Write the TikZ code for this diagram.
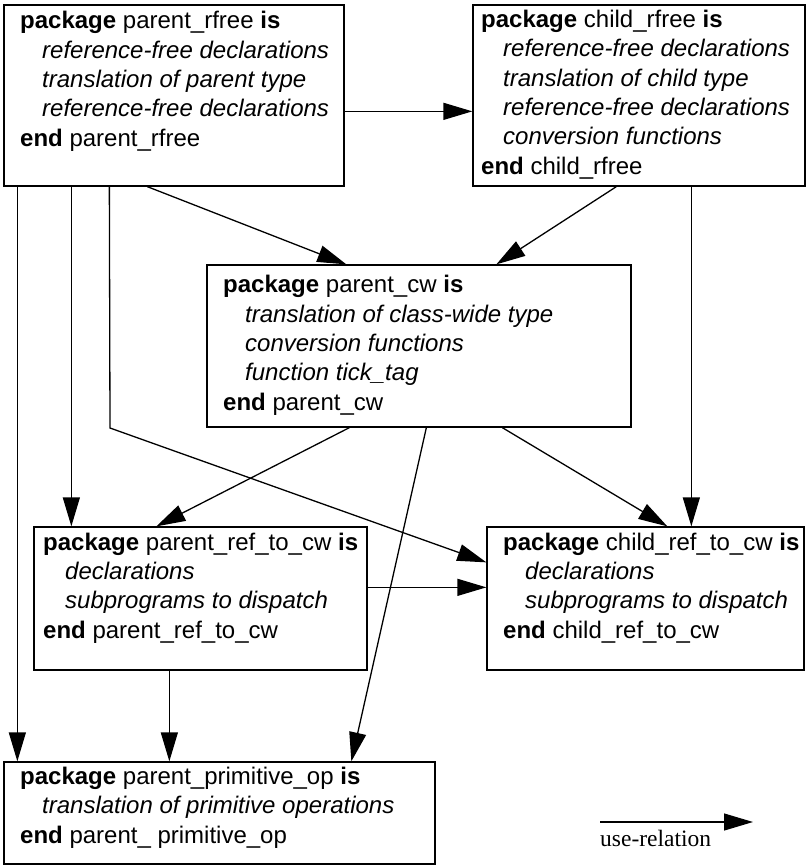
\documentclass[tikz,border=0pt]{standalone}
\usepackage{fontspec}
\setmainfont{Liberation Sans}
\newfontfamily\legendfont{Liberation Serif}
\usetikzlibrary{arrows.meta,calc}

\newcommand{\kw}[1]{\textbf{#1}}
\newcommand{\ind}[1]{\hspace*{22pt}\textit{#1}}

\tikzset{
  pkgbox/.style={draw, line width=1.3pt, inner sep=0pt, fill=white},
  % a multi-line node's base is its last line: texts are placed by that line
  pkgtext/.style={anchor=base west, inner sep=0pt, align=left,
    font=\fontsize{24}{29.3}\selectfont},
  uses/.style={line width=1.3pt, -{Triangle[length=29pt,width=17pt]}},
}

\begin{document}
\begin{tikzpicture}[x=1pt,y=-1pt]
  \useasboundingbox (0,0) rectangle (806,865);

  % package boxes
  \node[pkgbox, minimum width=340pt, minimum height=181pt] (prf) at (174,95.5) {};
  \node[pkgbox, minimum width=332pt, minimum height=181pt] (crf) at (639,95.5) {};
  \node[pkgbox, minimum width=424pt, minimum height=162pt] (pcw) at (419,346) {};
  \node[pkgbox, minimum width=333pt, minimum height=143pt] (prc) at (200.5,598.5) {};
  \node[pkgbox, minimum width=317pt, minimum height=143pt] (crc) at (645.5,598.5) {};
  \node[pkgbox, minimum width=431pt, minimum height=102pt] (ppo) at (219.5,813) {};

  % package texts
  \node[pkgtext] (prf-t) at (20,146) {\kw{package} parent\_rfree \kw{is}\\
    \ind{reference-free declarations}\\
    \ind{translation of parent type}\\
    \ind{reference-free declarations}\\
    \kw{end} parent\_rfree};
  \node[pkgtext] (crf-t) at (481,174) {\kw{package} child\_rfree \kw{is}\\
    \ind{reference-free declarations}\\
    \ind{translation of child type}\\
    \ind{reference-free declarations}\\
    \ind{conversion functions}\\
    \kw{end} child\_rfree};
  \node[pkgtext] (pcw-t) at (223,410) {\kw{package} parent\_cw \kw{is}\\
    \ind{translation of class-wide type}\\
    \ind{conversion functions}\\
    \ind{function tick\_tag}\\
    \kw{end} parent\_cw};
  \node[pkgtext] (prc-t) at (43,638) {\kw{package} parent\_ref\_to\_cw \kw{is}\\
    \ind{declarations}\\
    \ind{subprograms to dispatch}\\
    \kw{end} parent\_ref\_to\_cw};
  \node[pkgtext] (crc-t) at (503,638) {\kw{package} child\_ref\_to\_cw \kw{is}\\
    \ind{declarations}\\
    \ind{subprograms to dispatch}\\
    \kw{end} child\_ref\_to\_cw};
  \node[pkgtext] (ppo-t) at (20,843) {\kw{package} parent\_primitive\_op \kw{is}\\
    \ind{translation of primitive operations}\\
    \kw{end} parent\_ primitive\_op};

  % use relations
  \draw[uses] ($(prf.north east)+(0,107)$) -- ($(crf.north west)+(0,107)$);
  \draw[uses] ($(prf.south west)+(144,0)$) -- ($(pcw.north west)+(140,0)$);
  \draw[uses] ($(crf.south west)+(144,0)$) -- ($(pcw.north west)+(290,0)$);
  \draw[uses] ($(prf.south west)+(14,0)$) -- ($(ppo.north west)+(14,0)$);
  \draw[uses] ($(prf.south west)+(68,0)$) -- ($(prc.north west)+(38,0)$);
  \coordinate (bend) at (110,428);
  \draw[uses] ($(prf.south west)+(106,0)$) -- (bend) -- ($(crc.north west)+(0,36)$);
  \draw[uses] ($(crf.south west)+(219,0)$) -- ($(crc.north west)+(205,0)$);
  \draw[uses] ($(pcw.south west)+(143,0)$) -- ($(prc.north west)+(123,0)$);
  \draw[uses] ($(pcw.south west)+(220,0)$) -- ($(ppo.north west)+(348,0)$);
  \draw[uses] ($(pcw.south west)+(296,0)$) -- ($(crc.north west)+(181,0)$);
  \draw[uses] ($(prc.north east)+(0,61)$) -- ($(crc.north west)+(0,61)$);
  \draw[uses] ($(prc.south west)+(136,0)$) -- ($(ppo.north west)+(166,0)$);

  % legend
  \coordinate (leg-a) at (600,822);
  \coordinate (leg-b) at (753,822);
  \draw[uses] (leg-a) -- (leg-b);
  \node[anchor=base west, inner sep=0pt, font=\legendfont\fontsize{23.5}{26}\selectfont]
    (leg-t) at (600,846) {use-relation};
\end{tikzpicture}
\end{document}
